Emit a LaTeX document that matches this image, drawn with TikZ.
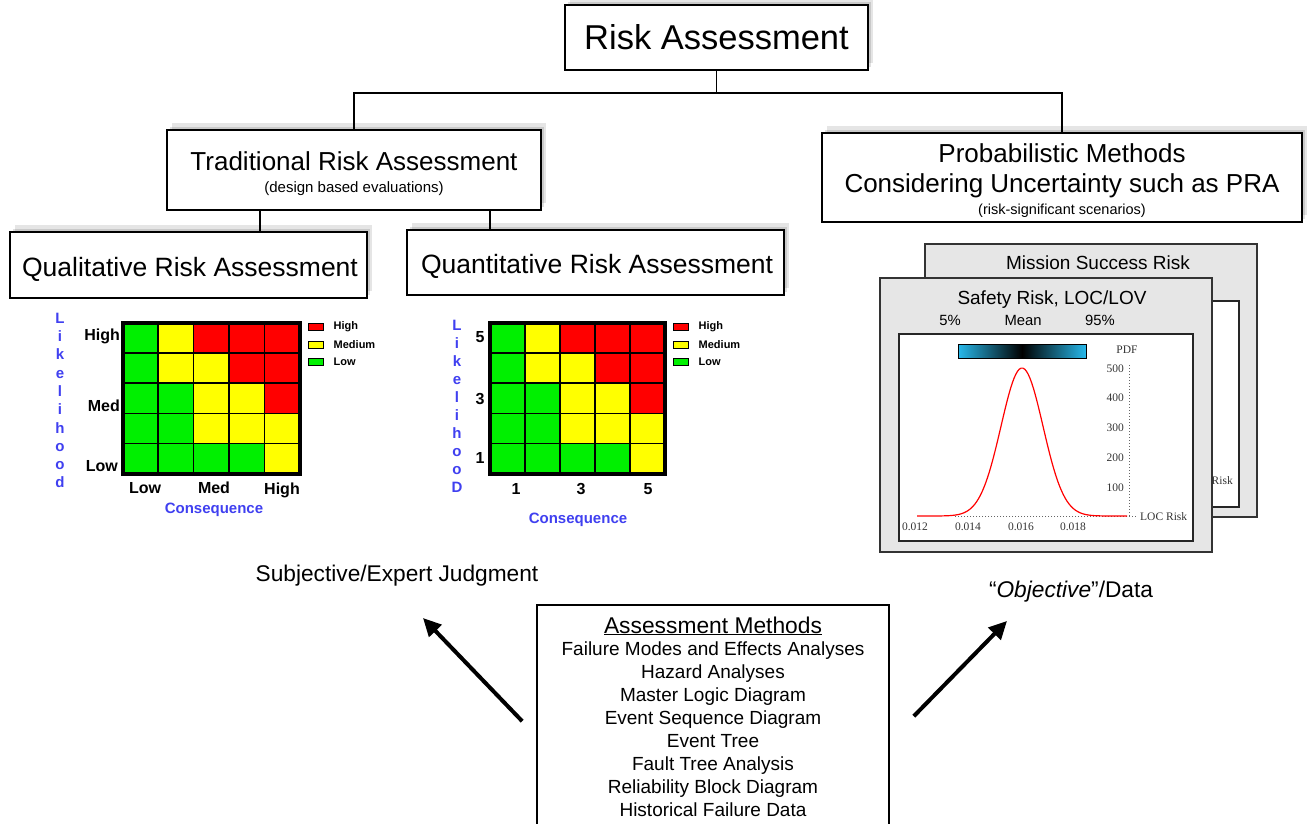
\documentclass[tikz,border=0pt]{standalone}
\usepackage{fontspec}
\setmainfont{Liberation Sans}
\newfontfamily\plotfont{Liberation Serif}
\usetikzlibrary{arrows.meta,shadows,positioning}

\definecolor{cellred}{RGB}{255,0,0}
\definecolor{cellyellow}{RGB}{255,255,0}
\definecolor{cellgreen}{RGB}{0,240,0}
\definecolor{axisblue}{RGB}{64,64,240}
\definecolor{panelgray}{RGB}{230,230,230}
\definecolor{barcyan}{RGB}{40,185,235}

\newcommand{\fs}[1]{\fontsize{#1}{#1}\selectfont}
% 5x5 matrix of cells below a frame node
\newcommand{\riskgrid}[2]{%
  \foreach \row [count=\j] in {{cellgreen,cellyellow,cellred,cellred,cellred},
      {cellgreen,cellyellow,cellyellow,cellred,cellred},
      {cellgreen,cellgreen,cellyellow,cellyellow,cellred},
      {cellgreen,cellgreen,cellyellow,cellyellow,cellyellow},
      {cellgreen,cellgreen,cellgreen,cellgreen,cellyellow}}
    \foreach \c [count=\i] in \row
      \filldraw[fill=\c, line width=1.5pt]
        ([shift={({(\i-1)*#2},{(\j-1)*30.2})}]#1.north west) rectangle ++(#2,30.2);
  \draw[line width=4pt] (#1.north west) rectangle (#1.south east)}
\newcommand{\legendrow}[5]{\node[swatch, fill=#4] (#1) at (#2,#3) {};
  \node[legendtext, right=10pt of #1] (#1text) {#5}}

\tikzset{
  txt/.style={inner sep=0pt, anchor=base},
  box/.style={draw, line width=1.6pt, fill=white, inner sep=0pt,
    drop shadow={shadow xshift=3pt, shadow yshift=3pt, opacity=0.12, fill=black},
    drop shadow={shadow xshift=5pt, shadow yshift=7pt, opacity=0.10, fill=black}},
  flatbox/.style={draw, line width=1.6pt, fill=white, inner sep=0pt},
  link/.style={line width=1.5pt},
  panel/.style={draw=black!80, line width=1.5pt, fill=panelgray, inner sep=0pt},
  plotarea/.style={draw=black!85, line width=1.5pt, fill=white, inner sep=0pt},
  swatch/.style={draw, line width=1pt, minimum width=15pt, minimum height=7pt, inner sep=0pt},
  legendtext/.style={inner sep=0pt, font={\bfseries\fs{11}}},
  gridlabel/.style={inner sep=0pt, font={\bfseries\fs{16}}},
  axislabel/.style={inner sep=0pt, font={\bfseries\fs{15}}, text=axisblue},
  plottext/.style={inner sep=0pt, font={\plotfont\fs{11.5}}, text=black!80},
  bigarrow/.style={line width=4pt, -{Triangle[length=18pt,width=17pt]}},
}

\begin{document}
\begin{tikzpicture}[x=1pt, y=-1pt]
\useasboundingbox (0,0) rectangle (1309,824);
%Hierarchy
	\node[box, minimum width=303pt, minimum height=65pt] (risk) at (716.5,37.5) {};
	\node[txt, font={\fs{34.5}}] (risktext) at (716.5,50) {Risk Assessment};
	\node[box, minimum width=374pt, minimum height=80pt] (trad) at (354,170) {};
	\node[txt, font={\fs{26}}] (tradtext) at (354,170) {Traditional Risk Assessment};
	\node[txt, font={\fs{15}}] (tradsub) at (354,192) {(design based evaluations)};
	\node[box, minimum width=480pt, minimum height=89pt] (prob) at (1062,177.5) {};
	\node[txt, font={\fs{26}}] (probtext) at (1062,162) {Probabilistic Methods};
	\node[txt, font={\fs{26}}] (probtext2) at (1062,193) {Considering Uncertainty such as PRA};
	\node[txt, font={\fs{14.5}}] (probsub) at (1062,214) {(risk-significant scenarios)};
	\node[box, minimum width=357pt, minimum height=66pt] (qual) at (188.5,265) {};
	\node[txt, font={\fs{26.5}}] (qualtext) at (190,276) {Qualitative Risk Assessment};
	\node[box, minimum width=377pt, minimum height=65pt] (quant) at (595.5,262.5) {};
	\node[txt, font={\fs{26.5}}] (quanttext) at (597,273) {Quantitative Risk Assessment};
%Connectors
	\draw[link] (risk.south) -- ++(0,22) coordinate (branch);
	\draw[link] (trad.north) |- (branch) -| (prob.north);
	\coordinate (qlfork) at ([xshift=-94pt]trad.south);
	\coordinate (qnfork) at ([xshift=136pt]trad.south);
	\draw[link] (qlfork) -- (qlfork |- qual.north);
	\draw[link] (qnfork) -- (qnfork |- quant.north);
%Qualitative matrix
	\node[inner sep=0pt, minimum width=177pt, minimum height=151pt] (qlgrid) at (211.5,398.5) {};
	\riskgrid{qlgrid}{35.4};
	\node[gridlabel, anchor=base east] (qlhighrow) at (120,340) {High};
	\node[gridlabel, anchor=base east] (qlmedrow) at (120,411) {Med};
	\node[gridlabel, anchor=base east] (qllowrow) at (118,471) {Low};
	\node[gridlabel, anchor=base] (qllowcol) at (145,493) {Low};
	\node[gridlabel, anchor=base] (qlmedcol) at (214,493) {Med};
	\node[gridlabel, anchor=base] (qlhighcol) at (282,494) {High};
	\node[axislabel, anchor=base] (qlcons) at (214,513) {Consequence};
	\node[axislabel, align=center, font={\bfseries\fontsize{15}{18.3}\selectfont}] (qllik) at (60,400.5) {L\\i\\k\\e\\l\\i\\h\\o\\o\\d};
	\legendrow{qlhigh}{315.5}{327}{cellred}{High};
	\legendrow{qlmed}{315.5}{345}{cellyellow}{Medium};
	\legendrow{qllow}{315.5}{362}{cellgreen}{Low};
%Quantitative matrix
	\node[inner sep=0pt, minimum width=175pt, minimum height=151pt] (qngrid) at (577.5,398.5) {};
	\riskgrid{qngrid}{35};
	\node[gridlabel, anchor=base] (qnfive) at (480,342) {5};
	\node[gridlabel, anchor=base] (qnthree) at (480,404) {3};
	\node[gridlabel, anchor=base] (qnone) at (480,463) {1};
	\node[gridlabel, anchor=base] (qnonecol) at (516,494) {1};
	\node[gridlabel, anchor=base] (qnthreecol) at (581,494) {3};
	\node[gridlabel, anchor=base] (qnfivecol) at (648,494) {5};
	\node[axislabel, anchor=base] (qncons) at (578,523) {Consequence};
	\node[axislabel, align=center, font={\bfseries\fontsize{15}{18}\selectfont}] (qnlik) at (457,406) {L\\i\\k\\e\\l\\i\\h\\o\\o\\D};
	\legendrow{qnhigh}{680.5}{327}{cellred}{High};
	\legendrow{qnmed}{680.5}{345}{cellyellow}{Medium};
	\legendrow{qnlow}{680.5}{362}{cellgreen}{Low};
%Back chart
	\node[panel, minimum width=332pt, minimum height=273pt] (msrpanel) at (1091,380.5) {};
	\node[txt, font={\fs{19}}] (msrtitle) at (1098,269) {Mission Success Risk};
	\node[plotarea, minimum width=239pt, minimum height=206pt] (msrplot) at (1119.5,404) {};
	\node[plottext, anchor=base east] (msraxis) at (1233,484) {LOC Risk};
%Front chart
	\node[panel, minimum width=332pt, minimum height=274pt] (safepanel) at (1046,415) {};
	\node[txt, font={\fs{19}}] (safetitle) at (1052,304) {Safety Risk, LOC/LOV};
	\node[txt, font={\fs{14.8}}] (pfive) at (950,325) {5\%};
	\node[txt, font={\fs{14.8}}] (pmean) at (1023,325) {Mean};
	\node[txt, font={\fs{14.8}}] (pninetyfive) at (1100,325) {95\%};
	\node[plotarea, minimum width=294pt, minimum height=207pt] (safeplot) at (1046,437.5) {};
	\shade[left color=barcyan, right color=black] (958,344) rectangle (1022,358);
	\shade[left color=black, right color=barcyan] (1022,344) rectangle (1086,358);
	\draw[line width=1pt] (958,344) rectangle (1086,358);
	\node[plottext] (pdf) at (1127,350) {PDF};
	\draw[dotted, line width=1pt, black!60] (1129,365) -- (1129,516) -- (955,516);
	\draw[dotted, line width=1pt, black!60] (1129,516) -- (1138,516);
	\foreach \v [count=\k] in {500,400,300,200,100}
		\node[plottext, anchor=base east] (ytick\k) at (1124,{372+29.8*(\k-1)}) {\v};
	\foreach \t/\xpos [count=\k] in {0.012/915,0.014/968,0.016/1021,0.018/1073}
		\node[plottext, anchor=base] (xtick\k) at (\xpos,530) {\t};
	\node[plottext, anchor=base west] (locrisk) at (1140,520) {LOC Risk};
	\draw[red, line width=1.2pt, domain=917:1127, samples=120] plot (\x,{516-148*exp(-((\x-1022)^2)/882)});
%Captions
	\node[txt, font={\fs{22.7}}] (subjective) at (397,581) {Subjective/Expert Judgment};
	\node[txt, font={\fs{22.7}}] (objective) at (1071,597) {“\textit{Objective}”/Data};
%Methods
	\node[flatbox, minimum width=352pt, minimum height=235pt] (methods) at (713,722.5) {};
	\node[txt, font={\fs{22.8}}] (methodstitle) at (713,633) {\underline{Assessment Methods}};
	\foreach \m [count=\k] in {Failure Modes and Effects Analyses, Hazard Analyses,
		Master Logic Diagram, Event Sequence Diagram, Event Tree, Fault Tree Analysis,
		Reliability Block Diagram, Historical Failure Data}
		\node[txt, font={\fs{19}}] (method\k) at (713,{632+23*\k}) {\m};
	\draw[bigarrow] ([shift={(-14,117)}]methods.north west) -- ([shift={(26,37)}]subjective.base);
	\draw[bigarrow] ([shift={(24,112)}]methods.north east) -- ([shift={(-64,24)}]objective.base);
\end{tikzpicture}
\end{document}
